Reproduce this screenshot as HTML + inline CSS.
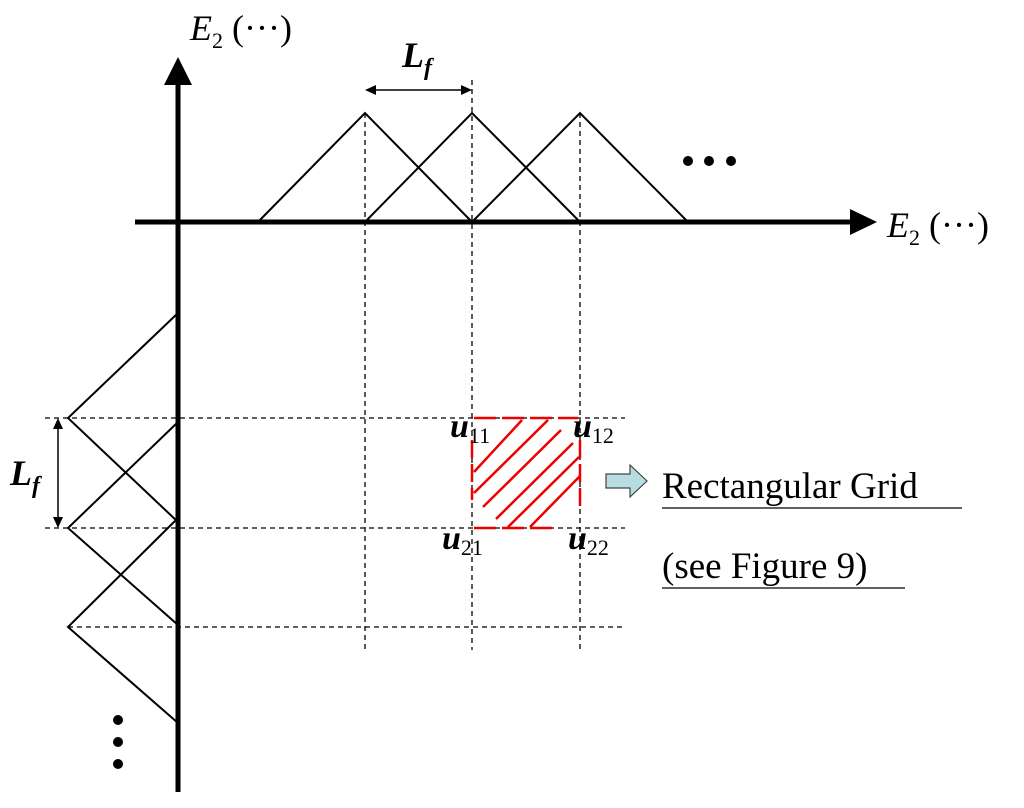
<!DOCTYPE html>
<html><head><meta charset="utf-8"><style>body{margin:0;background:#fff}svg{display:block}</style></head><body>
<svg width="1024" height="808" viewBox="0 0 1024 808" xmlns="http://www.w3.org/2000/svg" font-family="Liberation Serif, serif">
<g stroke="#000" stroke-width="1.3" stroke-dasharray="5,4" fill="none">
<line x1="365" y1="113" x2="365" y2="650"/>
<line x1="472" y1="80" x2="472" y2="650"/>
<line x1="580" y1="113" x2="580" y2="650"/>
<line x1="45" y1="418" x2="625" y2="418"/>
<line x1="45" y1="528" x2="625" y2="528"/>
<line x1="68" y1="627" x2="625" y2="627"/>
</g>
<g stroke="#000" stroke-width="2" fill="none">
<polyline points="258,222 365,113 472,222"/>
<polyline points="365,222 472,113 580,222"/>
<polyline points="472,222 580,113 688,222"/>
<polyline points="178,313 68,418 178,522"/>
<polyline points="178,422 68,528 178,625"/>
<polyline points="178,518 68,627 178,723"/>
</g>
<line x1="178" y1="80" x2="178" y2="792" stroke="#000" stroke-width="5"/>
<polygon points="178,57 164,85 192,85" fill="#000"/>
<line x1="135" y1="222" x2="852" y2="222" stroke="#000" stroke-width="5"/>
<polygon points="877,222 850,209 850,235" fill="#000"/>
<line x1="372" y1="90" x2="465" y2="90" stroke="#000" stroke-width="1.5"/>
<polygon points="365,90 376,85 376,95" fill="#000"/><polygon points="472,90 461,85 461,95" fill="#000"/>
<line x1="58" y1="425" x2="58" y2="521" stroke="#000" stroke-width="1.5"/>
<polygon points="58,418 53,429 63,429" fill="#000"/><polygon points="58,528 53,517 63,517" fill="#000"/>
<circle cx="688" cy="161" r="5"/><circle cx="709" cy="161" r="5"/><circle cx="731" cy="161" r="5"/>
<circle cx="118" cy="720" r="5"/><circle cx="118" cy="742" r="5"/><circle cx="118" cy="764" r="5"/>
<g stroke="#e00" stroke-width="2.5" fill="none">
<line x1="474" y1="418" x2="578" y2="418" stroke-dasharray="22,6"/>
<line x1="474" y1="528" x2="558" y2="528" stroke-dasharray="22,6"/>
<line x1="472" y1="440" x2="472" y2="500" stroke-dasharray="18,6"/>
<line x1="580" y1="440" x2="580" y2="510" stroke-dasharray="18,6"/>
<line x1="474" y1="472" x2="522" y2="420"/>
<line x1="474" y1="493" x2="548" y2="420"/>
<line x1="483" y1="507" x2="561" y2="430"/>
<line x1="496" y1="519" x2="573" y2="443"/>
<line x1="508" y1="527" x2="579" y2="457"/>
<line x1="530" y1="527" x2="580" y2="476"/>
</g>
<polygon points="606,474 630,474 630,465 647,481 630,497 630,488 606,488" fill="#b7dde3" stroke="#444" stroke-width="1.2"/>
<g font-style="italic" font-weight="bold" font-size="34">
<text x="450" y="437">u<tspan font-size="22" font-style="normal" font-weight="normal" dy="6">11</tspan></text>
<text x="573" y="437">u<tspan font-size="22" font-style="normal" font-weight="normal" dy="6">12</tspan></text>
<text x="442" y="549">u<tspan font-size="22" font-style="normal" font-weight="normal" dy="6">21</tspan></text>
<text x="568" y="549">u<tspan font-size="22" font-style="normal" font-weight="normal" dy="6">22</tspan></text>
<text x="402" y="67" font-size="36">L<tspan font-size="24" dy="8">f</tspan></text>
<text x="10" y="485" font-size="36">L<tspan font-size="24" dy="8">f</tspan></text>
</g>
<g font-size="36">
<text x="190" y="40"><tspan font-style="italic">E</tspan><tspan font-size="22" dy="8">2</tspan><tspan dy="-8"> (···)</tspan></text>
<text x="197" y="12" font-size="30">˙</text>
<text x="887" y="237"><tspan font-style="italic">E</tspan><tspan font-size="22" dy="8">2</tspan><tspan dy="-8"> (···)</tspan></text>
<text x="662" y="498" font-size="37">Rectangular Grid</text>
<text x="662" y="578" font-size="37">(see Figure 9)</text>
</g>
<line x1="662" y1="508" x2="962" y2="508" stroke="#000" stroke-width="1.3"/>
<line x1="662" y1="588" x2="905" y2="588" stroke="#000" stroke-width="1.3"/>
</svg>
</body></html>
